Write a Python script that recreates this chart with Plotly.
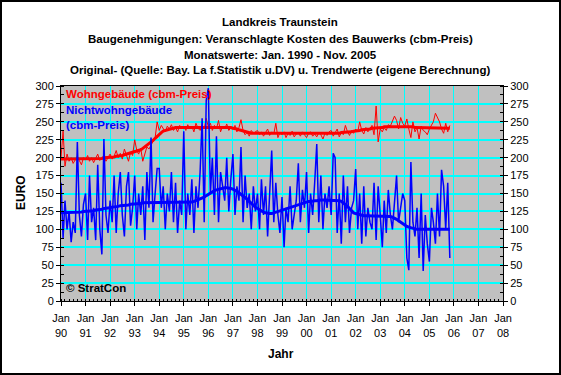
import pandas as pd
import plotly.graph_objects as go

# ---- data (monthly values, Jan 1990 - Nov 2005) ----
months = pd.date_range("1990-01-01", periods=191, freq="MS")

wohn_raw = [
    200, 237, 188, 205, 195, 200, 192, 198, 202, 196, 190, 200,  # 1990
    197, 203, 195, 200, 193, 199, 205, 196, 200, 202, 195, 200,  # 1991
    205, 198, 202, 210, 200, 206, 198, 212, 202, 195, 208, 203,  # 1992
    225, 210, 205, 213, 195, 204, 215, 212, 218, 222, 228, 250,  # 1993
    238, 245, 240, 236, 244, 240, 246, 238, 242, 236, 245, 240,  # 1994
    243, 238, 246, 240, 244, 236, 248, 241, 238, 245, 240, 255,  # 1995
    243, 248, 238, 245, 240, 252, 236, 244, 240, 247, 238, 242,  # 1996
    240, 245, 236, 242, 253, 238, 232, 235, 230, 238, 234, 236,  # 1997
    238, 232, 236, 230, 235, 240, 231, 236, 233, 248, 228, 235,  # 1998
    232, 236, 228, 234, 231, 237, 229, 233, 235, 230, 236, 232,  # 1999
    228, 234, 236, 230, 233, 229, 235, 232, 226, 234, 231, 236,  # 2000
    238, 230, 234, 240, 229, 235, 232, 245, 236, 231, 238, 234,  # 2001
    240, 236, 250, 238, 233, 242, 236, 240, 245, 232, 272, 222,  # 2002
    240, 236, 242, 238, 246, 244, 250, 258, 252, 240, 256, 248,  # 2003
    244, 254, 240, 228, 250, 236, 242, 226, 244, 238, 236, 232,  # 2004
    240, 246, 250, 262, 256, 250, 240, 234, 248, 236, 245,       # 2005
]

wohn_trend = [
    198, 198, 198, 198, 198, 198, 198, 198, 198, 198, 198, 198,
    198, 198, 198, 198, 199, 199, 199, 199, 199, 200, 200, 200,
    200, 201, 201, 202, 202, 203, 203, 204, 205, 205, 206, 207,
    208, 209, 210, 211, 213, 215, 217, 219, 221, 224, 227, 230,
    233, 235, 237, 238, 239, 240, 241, 241, 242, 242, 242, 243,
    243, 243, 243, 243, 243, 243, 243, 243, 243, 243, 243, 243,
    243, 243, 243, 243, 243, 243, 242, 242, 242, 242, 242, 242,
    241, 241, 240, 239, 238, 237, 236, 235, 235, 234, 234, 234,
    234, 234, 234, 234, 234, 234, 234, 234, 234, 234, 234, 234,
    233, 233, 233, 233, 233, 233, 233, 233, 233, 233, 233, 233,
    233, 233, 233, 233, 233, 233, 233, 233, 233, 233, 233, 233,
    233, 233, 234, 234, 234, 235, 235, 235, 236, 236, 236, 237,
    237, 238, 238, 239, 239, 240, 240, 240, 241, 241, 241, 242,
    242, 242, 243, 243, 243, 244, 244, 244, 244, 244, 244, 244,
    244, 244, 243, 243, 243, 242, 242, 242, 241, 241, 241, 241,
    241, 241, 241, 241, 241, 241, 241, 241, 241, 241, 241,
]

nicht_raw = [
    165, 88, 140, 100, 125, 82, 110, 95, 222, 120, 90, 135,      # 1990
    150, 85, 175, 110, 130, 85, 190, 100, 65, 226, 120, 95,      # 1991
    140, 110, 175, 95, 150, 180, 120, 90, 160, 180, 105, 130,    # 1992
    175, 100, 150, 120, 160, 85, 180, 130, 228, 110, 150, 185,   # 1993
    185, 130, 160, 100, 150, 125, 180, 110, 165, 95, 140, 120,   # 1994
    237, 100, 150, 120, 170, 95, 160, 130, 180, 255, 110, 280,   # 1995
    297, 150, 200, 120, 230, 110, 180, 160, 140, 200, 125, 170,  # 1996
    205, 120, 160, 140, 215, 110, 175, 130, 150, 100, 160, 125,  # 1997
    150, 100, 170, 120, 160, 90, 140, 210, 110, 165, 120, 95,    # 1998
    145, 75, 130, 110, 160, 100, 120, 140, 192, 110, 155, 130,   # 1999
    180, 95, 150, 120, 165, 219, 110, 175, 100, 150, 130, 160,   # 2000
    120, 206, 200, 95, 150, 80, 175, 110, 160, 95, 130, 140,     # 2001
    184, 100, 150, 80, 160, 90, 130, 110, 100, 165, 85, 160,     # 2002
    120, 75, 140, 95, 155, 120, 100, 145, 175, 110, 130, 150,    # 2003
    140, 60, 43, 194, 110, 90, 130, 60, 150, 42, 120, 80,        # 2004
    55, 130, 110, 80, 150, 90, 183, 160, 100, 165, 60,           # 2005
]

nicht_trend = [
    123, 123, 123, 123, 123, 124, 124, 124, 124, 124, 124, 125,
    125, 125, 126, 126, 126, 127, 127, 128, 128, 129, 129, 130,
    130, 131, 131, 132, 132, 133, 133, 134, 134, 134, 135, 135,
    135, 136, 136, 136, 137, 137, 137, 137, 137, 138, 138, 138,
    138, 138, 138, 138, 138, 138, 138, 138, 138, 138, 138, 138,
    138, 138, 138, 138, 138, 139, 140, 141, 142, 143, 145, 147,
    149, 150, 152, 154, 155, 156, 157, 158, 158, 158, 158, 157,
    156, 155, 153, 151, 149, 147, 144, 142, 139, 136, 133, 131,
    129, 127, 125, 124, 123, 122, 122, 122, 123, 124, 125, 126,
    127, 128, 129, 130, 131, 132, 133, 134, 135, 136, 137, 138,
    138, 139, 139, 140, 140, 140, 141, 141, 141, 141, 141, 141,
    141, 141, 141, 141, 140, 139, 137, 135, 132, 129, 126, 123,
    122, 121, 120, 120, 119, 119, 119, 119, 119, 119, 119, 119,
    119, 119, 119, 119, 119, 118, 117, 116, 114, 112, 110, 108,
    105, 104, 103, 102, 101, 101, 100, 100, 100, 100, 100, 100,
    100, 100, 100, 100, 100, 100, 100, 100, 100, 100, 100,
]

title_lines = [
    "Landkreis Traunstein",
    "Baugenehmigungen: Veranschlagte Kosten des Bauwerks (cbm-Preis)",
    "Monatswerte: Jan. 1990 - Nov. 2005",
    "Original- (Quelle: Bay. La f.Statistik u.DV) u. Trendwerte (eigene Berechnung)",
]
y_ticks = list(range(0, 301, 25))

# ---- layout geometry ----
W, H = 561, 375
PL, PR, PT, PB = 61, 503, 86, 301
FONT = "Liberation Sans, Arial, sans-serif"


def px(x):
    return (x - PL) / (PR - PL)


def py(y):
    return (PB - y) / (PB - PT)


fig = go.Figure()
fig.add_trace(go.Scatter(x=months, y=wohn_raw, mode="lines",
                         line=dict(color="#FF0000", width=1), showlegend=False))
fig.add_trace(go.Scatter(x=months, y=wohn_trend, mode="lines",
                         line=dict(color="#FF0000", width=3), showlegend=False))
fig.add_trace(go.Scatter(x=months, y=nicht_raw, mode="lines",
                         line=dict(color="#0000FF", width=1.5), showlegend=False))
fig.add_trace(go.Scatter(x=months, y=nicht_trend, mode="lines",
                         line=dict(color="#0000FF", width=3), showlegend=False))
# invisible trace to activate right axis
fig.add_trace(go.Scatter(x=[months[0]], y=[0], yaxis="y2", mode="markers",
                         marker=dict(opacity=0), showlegend=False, hoverinfo="skip"))

annotations = []
for i, (t, yy) in enumerate(zip(title_lines, [22, 39, 55, 70])):
    annotations.append(dict(text="<b>%s</b>" % t, xref="paper", yref="paper",
                            x=px(280), y=py(yy), showarrow=False,
                            xanchor="center", yanchor="middle",
                            font=dict(family=FONT, size=11.5, color="black")))
annotations += [
    dict(text="<b>Wohngebäude (cbm-Preis)</b>", xref="paper", yref="paper",
         x=px(64), y=py(94), xanchor="left", yanchor="middle", showarrow=False,
         font=dict(family=FONT, size=11.5, color="#FF0000")),
    dict(text="<b>Nichtwohngebäude</b>", xref="paper", yref="paper",
         x=px(64), y=py(110), xanchor="left", yanchor="middle", showarrow=False,
         font=dict(family=FONT, size=11.5, color="#0000FF")),
    dict(text="<b>(cbm-Preis)</b>", xref="paper", yref="paper",
         x=px(64), y=py(125), xanchor="left", yanchor="middle", showarrow=False,
         font=dict(family=FONT, size=11.5, color="#0000FF")),
    dict(text="<b>© StratCon</b>", xref="paper", yref="paper",
         x=px(64), y=py(288), xanchor="left", yanchor="middle", showarrow=False,
         font=dict(family=FONT, size=11.5, color="black")),
    dict(text="<b>EURO</b>", xref="paper", yref="paper", textangle=-90,
         x=px(21), y=py(193), xanchor="center", yanchor="middle", showarrow=False,
         font=dict(family=FONT, size=12, color="black")),
    dict(text="<b>Jahr</b>", xref="paper", yref="paper",
         x=px(281), y=py(354), xanchor="center", yanchor="middle", showarrow=False,
         font=dict(family=FONT, size=12, color="black")),
]

fig.update_layout(
    width=W, height=H,
    margin=dict(l=PL, r=W - PR, t=PT, b=H - PB, pad=0),
    paper_bgcolor="white", plot_bgcolor="#C0C0C0",
    font=dict(family=FONT, size=11, color="black"),
    annotations=annotations,
    xaxis=dict(
        type="date", range=["1990-01-01", "2008-01-01"],
        dtick="M12", tick0="1990-01-01", tickformat="%b<br>%y",
        showgrid=True, gridcolor="#00FFFF", gridwidth=1,
        showline=True, linecolor="black", linewidth=1, mirror=True,
        ticks="outside", ticklen=4, tickcolor="black", ticklabelstandoff=3,
        minor=dict(dtick="M2", ticks="inside", ticklen=2, tickcolor="black", showgrid=False),
        zeroline=False, tickfont=dict(size=11),
    ),
    yaxis=dict(
        range=[0, 300], tickvals=y_ticks, ticktext=[str(v) for v in y_ticks],
        showgrid=True, gridcolor="#00FFFF", gridwidth=1.5,
        showline=True, linecolor="black", linewidth=1,
        ticks="outside", ticklen=4, tickcolor="black",
        minor=dict(dtick=12.5, ticks="inside", ticklen=3, tickcolor="black", showgrid=False),
        zeroline=False, tickfont=dict(size=11),
    ),
    yaxis2=dict(
        range=[0, 300], tickvals=y_ticks, ticktext=[str(v) for v in y_ticks],
        overlaying="y", side="right", showgrid=False,
        showline=True, linecolor="black", linewidth=1,
        ticks="outside", ticklen=4, tickcolor="black",
        minor=dict(dtick=12.5, ticks="inside", ticklen=3, tickcolor="black"),
        zeroline=False, tickfont=dict(size=11),
    ),
    shapes=[dict(type="rect", xref="paper", yref="paper",
                 x0=px(1), x1=px(560), y0=py(374), y1=py(1),
                 line=dict(color="black", width=2), fillcolor="rgba(0,0,0,0)",
                 layer="above")],
)

fig.write_html("out.html", config={"displayModeBar": False},
               post_script="document.body.style.margin='0';document.body.style.padding='0';")
